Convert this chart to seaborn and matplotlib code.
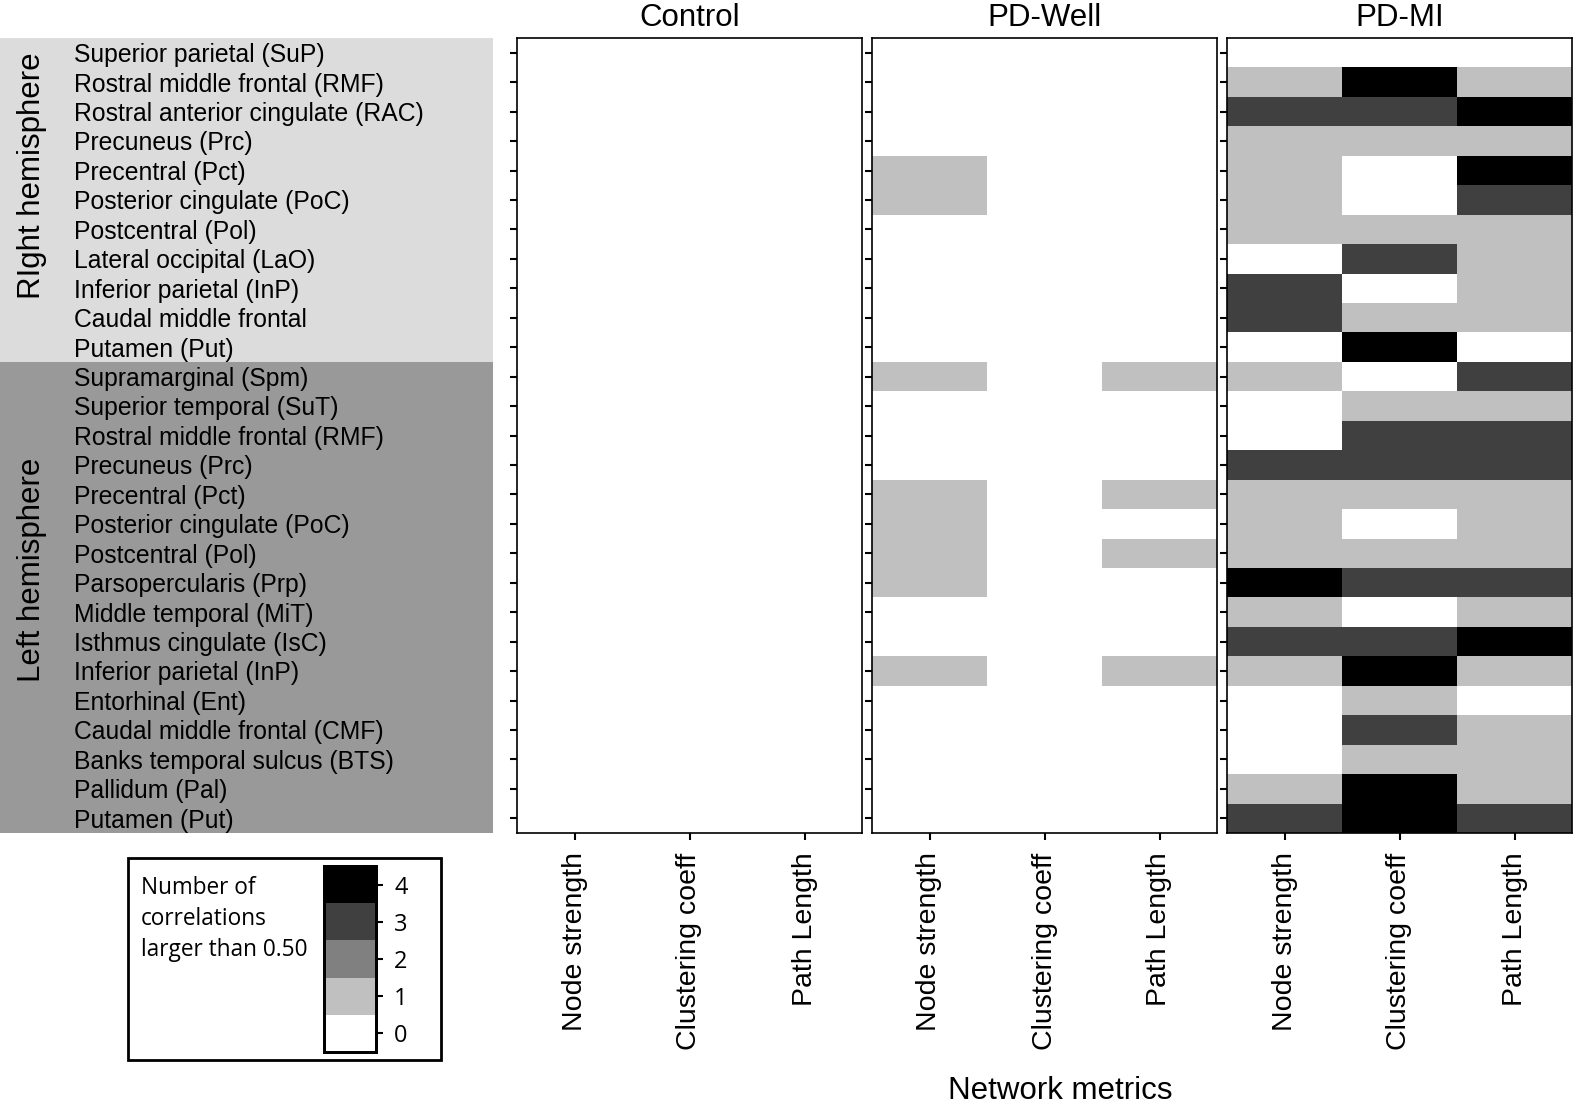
import numpy as np
import pandas as pd
import matplotlib
matplotlib.use("Agg")
import matplotlib.pyplot as plt
from matplotlib.colors import ListedColormap
from matplotlib.patches import Rectangle
import seaborn as sns

sns.set_style("white")
plt.rcParams['font.family'] = ['Liberation Sans', 'DejaVu Sans']
plt.rcParams['text.color'] = 'black'
plt.rcParams['xtick.color'] = 'black'
plt.rcParams['ytick.color'] = 'black'
plt.rcParams['axes.labelcolor'] = 'black'

right_regions = ["Superior parietal (SuP)", "Rostral middle frontal (RMF)",
                 "Rostral anterior cingulate (RAC)", "Precuneus (Prc)",
                 "Precentral (Pct)", "Posterior cingulate (PoC)", "Postcentral (Pol)",
                 "Lateral occipital (LaO)", "Inferior parietal (InP)",
                 "Caudal middle frontal", "Putamen (Put)"]
left_regions = ["Supramarginal (Spm)", "Superior temporal (SuT)",
                "Rostral middle frontal (RMF)", "Precuneus (Prc)", "Precentral (Pct)",
                "Posterior cingulate (PoC)", "Postcentral (Pol)", "Parsopercularis (Prp)",
                "Middle temporal (MiT)", "Isthmus cingulate (IsC)",
                "Inferior parietal (InP)", "Entorhinal (Ent)",
                "Caudal middle frontal (CMF)", "Banks temporal sulcus (BTS)",
                "Pallidum (Pal)", "Putamen (Put)"]
regions = right_regions + left_regions
metrics = ["Node strength", "Clustering coeff", "Path Length"]
groups = ["Control", "PD-Well", "PD-MI"]

# number of correlations > 0.50, columns: node strength, clustering, path length
control = [[0, 0, 0]] * 27

pd_well = [[0, 0, 0], [0, 0, 0], [0, 0, 0], [0, 0, 0], [1, 0, 0], [1, 0, 0],
           [0, 0, 0], [0, 0, 0], [0, 0, 0], [0, 0, 0], [0, 0, 0],
           [1, 0, 1], [0, 0, 0], [0, 0, 0], [0, 0, 0], [1, 0, 1], [1, 0, 0],
           [1, 0, 1], [1, 0, 0], [0, 0, 0], [0, 0, 0], [1, 0, 1], [0, 0, 0],
           [0, 0, 0], [0, 0, 0], [0, 0, 0], [0, 0, 0]]

pd_mi = [[0, 0, 0], [1, 4, 1], [3, 3, 4], [1, 1, 1], [1, 0, 4], [1, 0, 3],
         [1, 1, 1], [0, 3, 1], [3, 0, 1], [3, 1, 1], [0, 4, 0],
         [1, 0, 3], [0, 1, 1], [0, 3, 3], [3, 3, 3], [1, 1, 1], [1, 0, 1],
         [1, 1, 1], [4, 3, 3], [1, 0, 1], [3, 3, 4], [1, 4, 1], [0, 1, 0],
         [0, 3, 1], [0, 1, 1], [1, 4, 1], [3, 4, 3]]

levels = [0, 1, 2, 3, 4]
cmap = ListedColormap(["#ffffff", "#c0c0c0", "#808080", "#404040", "#000000"])

W, H = 1574, 1108
fig = plt.figure(figsize=(W / 100, H / 100), dpi=100)


def box(x0, y0, x1, y1):
    return [x0 / W, 1 - y1 / H, (x1 - x0) / W, (y1 - y0) / H]


top, bot = 38, 833
panel_x = [517, 872, 1227]
cax = fig.add_axes(box(324, 866, 376, 1052))

for i, (name, vals) in enumerate(zip(groups, [control, pd_well, pd_mi])):
    ax = fig.add_axes(box(panel_x[i], top, panel_x[i] + 345, bot))
    df = pd.DataFrame(vals, index=regions, columns=metrics)
    last = i == 2
    sns.heatmap(df, ax=ax, cmap=cmap, vmin=-0.5, vmax=4.5,
                cbar=last, cbar_ax=cax if last else None,
                cbar_kws={"ticks": levels} if last else None,
                xticklabels=metrics, yticklabels=False)
    ax.set_yticks(np.arange(len(regions)) + 0.5)
    ax.set_yticklabels([])
    ax.set_xticklabels(metrics, rotation=90, fontsize=20.5)
    ax.tick_params(axis="both", which="both", length=5, width=1.5, color="black",
                   left=True, bottom=True, pad=9)
    ax.set_xlabel("")
    ax.set_ylabel("")
    ax.set_title(name, fontsize=22.5, pad=9)
    for sp in ax.spines.values():
        sp.set_visible(True)
        sp.set_color("black")
        sp.set_linewidth(1.2)

# region label area with hemisphere shading
lab = fig.add_axes(box(0, top, 493, bot))
lab.set_xlim(0, 493)
lab.set_ylim(len(regions), 0)
lab.axhspan(0, len(right_regions), color="#dcdcdc", lw=0)
lab.axhspan(len(right_regions), len(regions), color="#999999", lw=0)
for j, r in enumerate(regions):
    lab.text(74, j + 0.58, r, fontsize=17.8, va="center", ha="left")
lab.axis("off")

fig.text(32 / W, 1 - 176 / H, "RIght hemisphere", rotation=90, fontsize=22.5,
         ha="center", va="center")
fig.text(32 / W, 1 - 570 / H, "Left hemisphere", rotation=90, fontsize=22.5,
         ha="center", va="center")

fig.text(1060 / W, 1 - 1091 / H, "Network metrics", fontsize=22.5,
         ha="center", va="center")

# legend box around colorbar
fig.add_artist(Rectangle((128 / W, 1 - 1060 / H), 313 / W, 202 / H,
                         transform=fig.transFigure, fill=False, lw=2,
                         edgecolor="black"))
for k, line in enumerate(["Number of", "correlations", "larger than 0.50"]):
    fig.text(141 / W, 1 - (888 + 31 * k) / H, line, fontsize=16.3,
             family="Open Sans", ha="left", va="center")

cax.tick_params(length=5, width=1.5, labelsize=17, pad=8, colors="black")
for t in cax.get_yticklabels():
    t.set_family("Open Sans")
for sp in cax.spines.values():
    sp.set_visible(True)
    sp.set_linewidth(2)
    sp.set_color("black")

fig.savefig("out.png", dpi=100)
